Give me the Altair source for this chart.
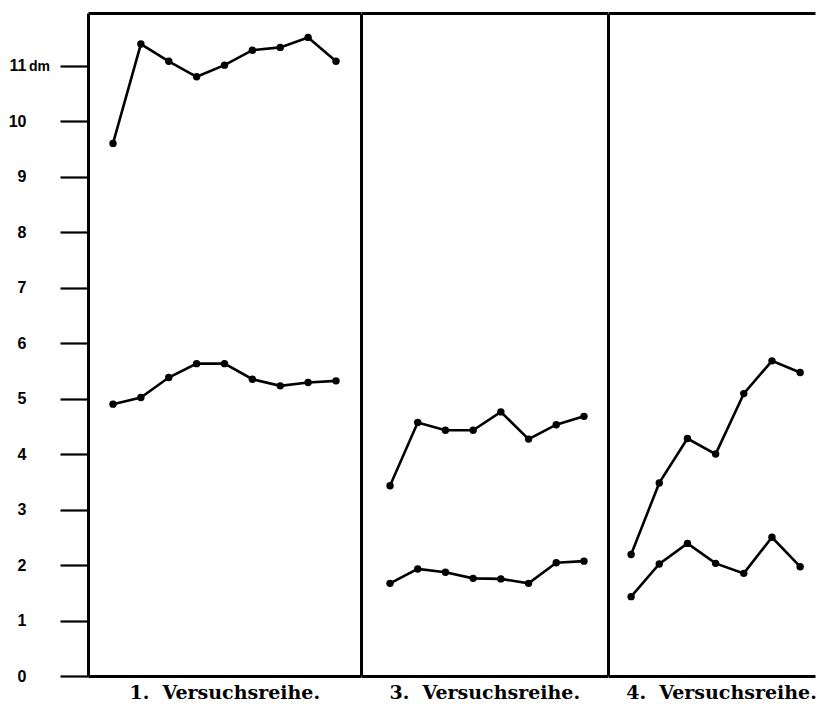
import altair as alt
import pandas as pd

# ---- data ----
titles = ["1.\u00a0 Versuchsreihe.", "3.\u00a0 Versuchsreihe.", "4.\u00a0 Versuchsreihe."]
upper_1 = [9.60, 11.39, 11.08, 10.80, 11.01, 11.28, 11.33, 11.51, 11.08]
lower_1 = [4.90, 5.02, 5.38, 5.63, 5.63, 5.35, 5.23, 5.29, 5.32]
upper_3 = [3.43, 4.57, 4.43, 4.43, 4.76, 4.27, 4.53, 4.68]
lower_3 = [1.67, 1.93, 1.87, 1.76, 1.75, 1.67, 2.04, 2.07]
upper_4 = [2.19, 3.48, 4.28, 4.00, 5.09, 5.68, 5.47]
lower_4 = [1.43, 2.02, 2.39, 2.03, 1.85, 2.50, 1.97]
y_ticks = list(range(0, 12))
y_unit_value = [11]
y_unit_text = ["dm"]

Y_DOMAIN = [0, 11.95]
HEIGHT = 663


def make_panel(upper, lower, title, xdom, width, first=False, title_x=None):
    rows = []
    for s, vals in (("upper", upper), ("lower", lower)):
        for i, v in enumerate(vals, start=1):
            rows.append({"n": i, "v": v, "s": s})
    df = pd.DataFrame(rows)
    xs = alt.Scale(domain=xdom, nice=False, zero=False)
    ys = alt.Scale(domain=Y_DOMAIN, nice=False)
    if first:
        yax = alt.Axis(values=y_ticks, tickSize=28, tickWidth=2.2, tickColor="black",
                       labelPadding=34, labelFont="Liberation Sans", labelFontWeight="bold",
                       labelFontSize=16, labelColor="black", domainWidth=3,
                       domainColor="black", grid=False, title=None)
    else:
        yax = alt.Axis(ticks=False, labels=False, domainWidth=3, domainColor="black",
                       grid=False, title=None)
    bottom_kw = dict(orient="bottom", ticks=False, labels=False, grid=False, domainWidth=3,
                     domainColor="black", title=title, titleFont="DejaVu Serif",
                     titleFontSize=19, titleFontWeight="bold", titleColor="black",
                     titlePadding=7)
    if title_x is not None:
        bottom_kw["titleX"] = title_x
        bottom_kw["titleAlign"] = "center"
    xbottom = alt.Axis(**bottom_kw)
    xtop = alt.Axis(orient="top", ticks=False, labels=False, grid=False, domainWidth=3,
                    domainColor="black", title=None)
    base = alt.Chart(df)
    lines = base.mark_line(color="black", strokeWidth=2.6).encode(
        x=alt.X("n:Q", scale=xs, axis=xbottom),
        y=alt.Y("v:Q", scale=ys, axis=yax),
        detail="s:N",
    )
    pts = base.mark_circle(color="black", size=55, opacity=1).encode(
        x=alt.X("n:Q", scale=xs, axis=xtop),
        y=alt.Y("v:Q", scale=ys, axis=yax),
    )
    layers = [lines, pts]
    if first:
        unit_df = pd.DataFrame({"v": y_unit_value, "t": y_unit_text})
        unit = alt.Chart(unit_df).mark_text(
            align="left", baseline="middle", font="Liberation Sans", fontWeight="bold",
            fontSize=14, color="black", dy=1,
        ).encode(
            x=alt.value(-59),
            y=alt.Y("v:Q", scale=ys, axis=yax),
            text="t:N",
        )
        layers.append(unit)
    return alt.layer(*layers).resolve_axis(x="independent").properties(
        width=width, height=HEIGHT
    )


p1 = make_panel(upper_1, lower_1, titles[0], [0.103, 9.879], 272.5, first=True)
p2 = make_panel(upper_3, lower_3, titles[1], [-0.047, 8.849], 246.5)
p3 = make_panel(upper_4, lower_4, titles[2], [0.18, 7.528], 207, title_x=113)

chart = alt.hconcat(p1, p2, p3, spacing=0).properties(
    padding={"left": 0, "top": 5, "right": 0, "bottom": 0},
    background="white",
).configure_view(stroke=None)

chart.save("out.html", embed_options={"renderer": "svg", "actions": False})
